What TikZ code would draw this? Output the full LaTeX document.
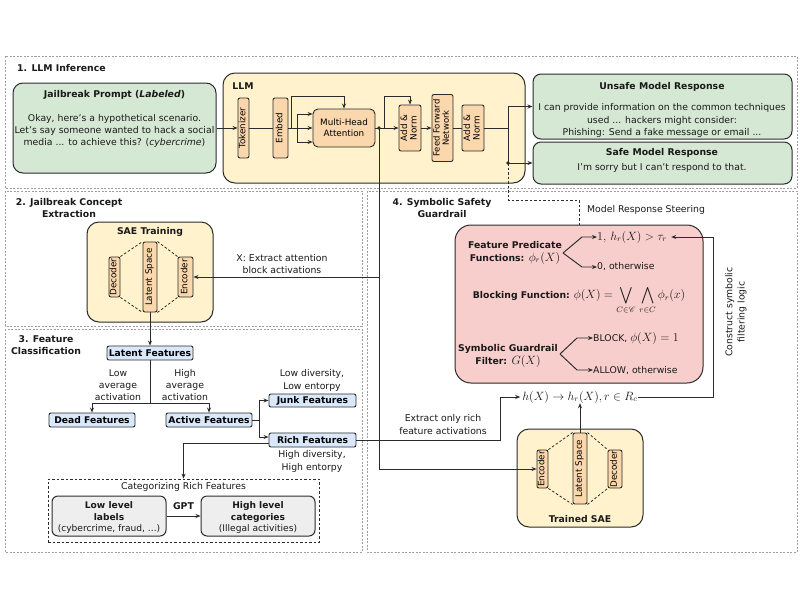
\documentclass[tikz,border=0pt]{standalone}
\usepackage{amsmath,amssymb,mathrsfs}
\usepackage{graphicx}
\usepackage{fontspec}
\setmainfont{DejaVu Sans}
\usetikzlibrary{arrows.meta,calc}
\definecolor{gfill}{HTML}{D5E8D4}
\definecolor{yfill}{HTML}{FFF2CC}
\definecolor{ofill}{HTML}{FAD7AC}
\definecolor{pfill}{HTML}{F8CECC}
\definecolor{bfill}{HTML}{DAE8FC}
\definecolor{grfill}{HTML}{EEEEEE}
\definecolor{edge}{HTML}{2B2B2B}
\newcommand{\mth}[1]{{\fontsize{11.8}{12}\selectfont$#1$}}
\newcommand{\vtxt}[1]{\rotatebox{90}{\begin{tabular}{@{}c@{}}#1\end{tabular}}}
\tikzset{
  sz/.style 2 args={minimum width=#1pt, minimum height=#2pt},
  box/.style={draw=edge, line width=1pt, rounded corners=9pt, inner sep=0pt},
  comp/.style={draw=edge, line width=0.9pt, fill=ofill, rounded corners=2pt, inner sep=0pt, font=\fontsize{8.8}{9.5}\selectfont, align=center},
  feat/.style={draw=edge, line width=0.9pt, fill=bfill, rounded corners=2pt, inner sep=0pt, font=\bfseries\fontsize{9.2}{10}\selectfont},
  panel/.style={draw=gray!75, dash pattern=on 2pt off 1.5pt, line width=0.6pt},
  arr/.style={-{Stealth[length=5pt,width=4pt]}, line width=0.95pt, draw=edge},
  ln/.style={line width=0.95pt, draw=edge},
  dsh/.style={line width=0.8pt, draw=edge, dash pattern=on 2.5pt off 2pt},
  txt/.style={font=\fontsize{9.3}{12.2}\selectfont, inner sep=0pt, align=center, text=black!90},
  btxt/.style={txt, font=\bfseries\fontsize{9.3}{12.2}\selectfont},
}
\begin{document}
\begin{tikzpicture}[x=1pt,y=-1pt]
\useasboundingbox (0,0) rectangle (800,600);
\fill[white] (0,0) rectangle (800,600);
% panels
\draw[panel] (5,56) rectangle (797,188);
\draw[panel] (5,191) rectangle (362,326);
\draw[panel] (5,329) rectangle (362,552);
\draw[panel] (367,191) rectangle (797,552);
\node[btxt, anchor=west] (t1) at (17,68) {1. LLM Inference};
\node[btxt] (t2) at (69,208) {2. Jailbreak Concept\\Extraction};
\node[btxt] (t3) at (46,345) {3. Feature\\Classification};
\node[btxt] (t4) at (442,208) {4. Symbolic Safety\\Guardrail};

% ---------- panel 1
\node[box, fill=gfill, sz={203}{90}, rounded corners=10pt] (jb) at (114.5,128) {};
\node[btxt] (jbt) at (114.5,95) {Jailbreak Prompt (\textit{Labeled})};
\node[txt] (jbb) at (114.5,131) {Okay, here's a hypothetical scenario.\\Let's say someone wanted to hack a social\\media ... to achieve this? (\textit{cybercrime})};

\node[box, fill=yfill, sz={302}{110}, rounded corners=12pt] (llm) at (374,128) {};
\node[btxt] (llmt) at (243,86) {LLM};
\node[comp, sz={11}{60}] (tok) at (243.5,128) {\vtxt{Tokenizer}};
\node[comp, sz={15}{60}] (emb) at (280.5,128) {\vtxt{Embed}};
\node[comp, sz={62}{38}, rounded corners=5pt, font=\fontsize{8.8}{11}\selectfont] (mha) at (344,128) {Multi-Head\\Attention};
\node[comp, sz={22}{46}] (an1) at (410,128) {\vtxt{Add \&\\Norm}};
\node[comp, sz={21}{67}, font=\fontsize{8.5}{9.2}\selectfont] (ffn) at (442.5,128) {\vtxt{Feed Forward\\Network}};
\node[comp, sz={22}{46}] (an2) at (473,128) {\vtxt{Add \&\\Norm}};

\node[box, fill=gfill, sz={259}{65}, rounded corners=8pt] (unsafe) at (662.5,106.5) {};
\node[btxt] (ut) at (662,87) {Unsafe Model Response};
\node[txt] (ub) at (662,120.5) {I can provide information on the common techniques\\used ... hackers might consider:\\Phishing: Send a fake message or email ...};
\node[box, fill=gfill, sz={259}{42}, rounded corners=8pt] (safe) at (662.5,163) {};
\node[btxt] (st) at (662,153) {Safe Model Response};
\node[txt] (sb) at (662,168) {I'm sorry but I can't respond to that.};

% LLM connectors
\draw[arr] (jb.east) -- (jb.east -| tok.west);
\draw[ln] (tok) -- (emb);
\coordinate (sp) at (297,128);
\coordinate (sp1) at (297,114);
\coordinate (sp3) at (297,142);
\coordinate (r1) at (291,128);
\draw[ln] (emb.east) -- (sp);
\draw[ln] (sp1) -- (sp3);
\draw[arr] (sp1) -- (sp1 -| mha.west);
\draw[arr] (sp) -- (mha.west);
\draw[arr] (sp3) -- (sp3 -| mha.west);
\draw[arr] (r1) -- ++(0,-32) -| (mha.north);
\draw[arr] (mha.east) -- (an1.west);
\coordinate (jn) at (379,128);
\coordinate (r2) at (384,128);
\draw[arr] (r2) -- ++(0,-32) -| (an1.north);
\draw[arr] (an1) -- (ffn);
\draw[ln] (ffn) -- (an2);
\coordinate (so) at (508,128);
\draw[ln] (an2.east) -- (so);
\draw[arr] (so) |- (unsafe.west);
\draw[arr] (so) |- (safe.west);
\coordinate (sob) at (so |- safe.west);
\fill[edge] (sob) circle (1.8pt);
\fill[edge] (jn) circle (1.8pt);

% ---------- panel 2
\node[box, fill=yfill, sz={126}{100}, rounded corners=12pt] (sae) at (150,272) {};
\node[btxt] (saet) at (150,232) {SAE Training};
\node[comp, sz={11}{40}] (dec1) at (114.5,277) {\vtxt{Decoder}};
\node[comp, sz={14}{70}] (lat1) at (150,277) {\vtxt{Latent Space}};
\node[comp, sz={15}{40}] (enc1) at (185.5,277) {\vtxt{Encoder}};
\draw[dsh] (dec1.north east) -- (lat1.north west);
\draw[dsh] (lat1.north east) -- (enc1.north west);
\draw[dsh] (dec1.south east) -- (lat1.south west);
\draw[dsh] (lat1.south east) -- (enc1.south west);
\node[txt] (xl) at (282,264) {X: Extract attention\\block activations};
\draw[arr] (jn |- enc1) -- (enc1.east);

% ---------- panel 3
\node[feat, sz={86}{14}] (lf) at (150,353) {Latent Features};
\node[feat, sz={86}{14}] (dead) at (92,420) {Dead Features};
\node[feat, sz={86}{14}] (act) at (209,420) {Active Features};
\node[feat, sz={87}{13}] (junk) at (312.5,400.5) {Junk Features};
\node[feat, sz={87}{14}] (rich) at (312.5,440) {Rich Features};
\draw[arr] (lat1.south) -- (lf.north);
\coordinate (lfj) at (150,403);
\draw[ln] (lf.south) -- (lfj);
\draw[arr] (lfj) -| (dead.north);
\draw[arr] (lfj) -| (act.north);
\node[txt] (lowl) at (118,385) {Low\\average\\activation};
\node[txt] (highl) at (185,385) {High\\average\\activation};
\coordinate (aj) at (259,420);
\draw[ln] (act.east) -- (aj);
\draw[arr] (aj) |- (junk.west);
\draw[arr] (aj) |- ([yshift=3pt]rich.west);
\node[txt] (jl) at (312,380.5) {Low diversity,\\Low entorpy};
\node[txt] (rl) at (312,461.5) {High diversity,\\High entorpy};

\node[draw=edge, line width=0.8pt, dash pattern=on 2.5pt off 2pt, sz={271}{63}, inner sep=0pt] (cat) at (183.5,510.5) {};
\node[txt] (catt) at (183.5,487) {Categorizing Rich Features};
\node[box, fill=grfill, sz={114}{40}, rounded corners=6pt] (low) at (109,516) {};
\node[txt, font=\fontsize{9.1}{11.5}\selectfont] (lowt) at (109,517.5) {\textbf{Low level}\\\textbf{labels}\\(cybercrime, fraud, ...)};
\node[box, fill=grfill, sz={114}{40}, rounded corners=6pt] (high) at (258,516) {};
\node[txt, font=\fontsize{9.1}{11.5}\selectfont] (hight) at (258,517.5) {\textbf{High level}\\\textbf{categories}\\(Illegal activities)};
\draw[arr] (low.east) -- (high.west);
\node[btxt] (gpt) at (183.5,506) {GPT};
\draw[arr] ([yshift=-3pt]rich.west) -| (cat.north);

% ---------- panel 4
\node[box, fill=pfill, sz={248}{158}, rounded corners=16pt] (pink) at (579,304) {};
\coordinate (steer) at (508,200);
\draw[dsh] (sob) -- (steer) -| (pink.north);
\node[txt, anchor=west] (steerl) at (587,210) {Model Response Steering};

\node[btxt] (fp) at (515,253) {Feature Predicate\\Functions: \mth{\phi_r(X)}};
\coordinate (b1) at (563,253);
\coordinate (b1u) at (582,237);
\coordinate (b1d) at (582,267);
\node[txt, anchor=west] (v1) at (597,237) {\mth{1,\, h_r(X) > \tau_r}};
\node[txt, anchor=west] (v0) at (597,267) {0, otherwise};
\draw[arr] (b1) -- (b1u) -- (v1.west);
\draw[arr] (b1) -- (b1d) -- (v0.west);

\node[txt] (bf) at (579,300) {\textbf{Blocking Function:} \mth{\phi(X) = \displaystyle\bigvee_{C\in\mathscr{C}}\,\bigwedge_{r\in C}\phi_r(x)}};

\node[btxt] (sg) at (508,356) {Symbolic Guardrail\\Filter: \mth{G(X)}};
\coordinate (b2) at (560,354);
\coordinate (b2u) at (577,338);
\coordinate (b2d) at (577,370);
\node[txt, anchor=west] (vb) at (593,338) {BLOCK, \mth{\phi(X) = 1}};
\node[txt, anchor=west] (va) at (593,370) {ALLOW, otherwise};
\draw[arr] (b2) -- (b2u) -- (vb.west);
\draw[arr] (b2) -- (b2d) -- (va.west);

\node[txt] (hx) at (580,397) {\mth{h(X) \to h_r(X), r \in R_c}};
\node[box, fill=yfill, sz={126}{98}, rounded corners=12pt] (tsae) at (580,478) {};
\node[comp, sz={11}{38}] (enc2) at (542.5,469) {\vtxt{Encoder}};
\node[comp, sz={14}{71}] (lat2) at (580,468.5) {\vtxt{Latent Space}};
\node[comp, sz={14}{38}] (dec2) at (615,469) {\vtxt{Decoder}};
\draw[dsh] (enc2.north east) -- (lat2.north west);
\draw[dsh] (lat2.north east) -- (dec2.north west);
\draw[dsh] (enc2.south east) -- (lat2.south west);
\draw[dsh] (lat2.south east) -- (dec2.south west);
\node[btxt] (tsaet) at (580,519) {Trained SAE};
\draw[arr] (lat2.north) -- (lat2.north |- hx.south);
\draw[arr] (jn) |- (enc2.west);

\coordinate (rx) at (500,440);
\draw[arr] (rich.east) -- (rx) |- ([xshift=-2pt]hx.west);
\node[txt] (rxl) at (443,424.5) {Extract only rich\\feature activations};

\coordinate (ct) at (713,237);
\draw[arr] (hx.east) -| (ct) -- ([xshift=4pt]v1.east);
\node[txt, rotate=90] (ctl) at (736,312) {Construct symbolic\\filtering logic};
\end{tikzpicture}
\end{document}
